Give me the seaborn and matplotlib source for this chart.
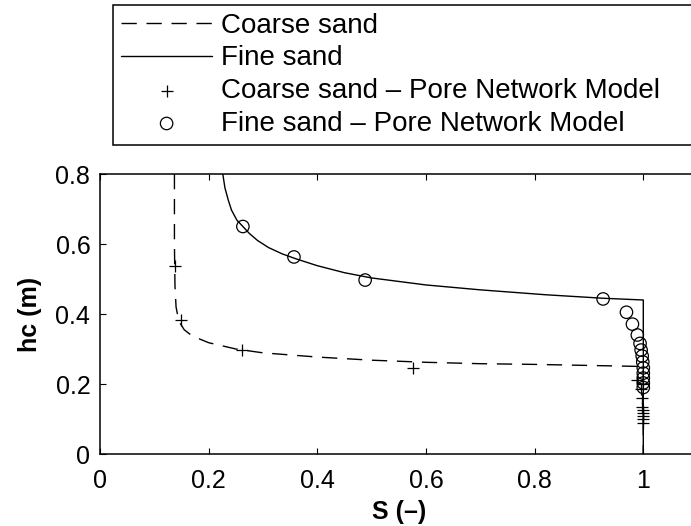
import matplotlib
matplotlib.use('Agg')
import matplotlib.pyplot as plt
import seaborn as sns

# retention curves: saturation S (-) vs capillary head hc (m)
coarse_s = [0.137, 0.137, 0.138, 0.140, 0.145, 0.155, 0.170, 0.200, 0.250, 0.300,
            0.400, 0.500, 0.600, 0.700, 0.800, 0.900, 1.000, 1.000]
coarse_hc = [0.800, 0.600, 0.480, 0.420, 0.380, 0.355, 0.337, 0.318, 0.300, 0.289,
             0.277, 0.268, 0.262, 0.258, 0.256, 0.253, 0.250, 0.000]

fine_s = [0.226, 0.230, 0.236, 0.242, 0.252, 0.263, 0.275, 0.290, 0.310, 0.335,
          0.360, 0.400, 0.450, 0.500, 0.600, 0.700, 0.820, 0.926, 1.000, 1.000]
fine_hc = [0.800, 0.760, 0.726, 0.697, 0.668, 0.650, 0.630, 0.610, 0.590, 0.572,
           0.558, 0.538, 0.518, 0.503, 0.483, 0.469, 0.455, 0.445, 0.440, 0.000]

# pore network model points
coarse_pnm_s = [0.138, 0.150, 0.261, 0.576, 0.988, 0.995, 0.997, 0.998, 0.999,
                0.999, 1.000, 1.000, 1.000, 1.000]
coarse_pnm_hc = [0.537, 0.383, 0.297, 0.246, 0.211, 0.185, 0.160, 0.135, 0.127,
                 0.118, 0.108, 0.099, 0.090, 0.200]

fine_pnm_s = [0.263, 0.357, 0.488, 0.926, 0.969, 0.980, 0.989, 0.994, 0.996,
              0.998, 0.999, 1.000, 1.000, 1.000, 1.000, 1.000]
fine_pnm_hc = [0.650, 0.563, 0.497, 0.443, 0.405, 0.371, 0.340, 0.316, 0.297,
               0.280, 0.263, 0.246, 0.231, 0.217, 0.203, 0.190]

xticks = [0, 0.2, 0.4, 0.6, 0.8, 1.0]
xticklabels = ['0', '0.2', '0.4', '0.6', '0.8', '1']
yticks = [0, 0.2, 0.4, 0.6, 0.8]
yticklabels = ['0', '0.2', '0.4', '0.6', '0.8']

sns.set_style('ticks')
plt.rcParams['font.family'] = ['Liberation Sans', 'DejaVu Sans']
plt.rcParams['xtick.direction'] = 'in'
plt.rcParams['ytick.direction'] = 'in'
plt.rcParams['axes.edgecolor'] = 'black'
plt.rcParams['axes.linewidth'] = 1.1
plt.rcParams['text.color'] = 'black'
plt.rcParams['axes.labelcolor'] = 'black'

fig = plt.figure(figsize=(6.91, 5.26), dpi=100)
ax = fig.add_axes([100 / 691, 1 - 454 / 526, 1.1 * 543.3 / 691, 280 / 526])

sns.lineplot(x=coarse_s, y=coarse_hc, sort=False, estimator=None, color='k',
             lw=1.0, linestyle=(0, (11, 7)), label='Coarse sand', ax=ax)
sns.lineplot(x=fine_s, y=fine_hc, sort=False, estimator=None, color='k',
             lw=1.0, label='Fine sand', ax=ax)
sns.scatterplot(x=coarse_pnm_s, y=coarse_pnm_hc, marker='+', color='k', s=70,
                linewidth=0.9, label='Coarse sand \u2013 Pore Network Model', ax=ax)
sns.scatterplot(x=fine_pnm_s, y=fine_pnm_hc, marker='o', s=80, facecolor='none',
                edgecolor='k', linewidth=0.9,
                label='Fine sand \u2013 Pore Network Model', ax=ax)

ax.set_xlim(0, 1.1)
ax.set_ylim(0, 0.8)
ax.set_xticks(xticks)
ax.set_xticklabels(xticklabels)
ax.set_yticks(yticks)
ax.set_yticklabels(yticklabels)
ax.tick_params(axis='both', labelsize=18, length=4, width=0.8,
               top=True, right=True, colors='k')
ax.tick_params(axis='x', pad=11)
ax.tick_params(axis='y', pad=7)
ax.set_xlabel('S (\u2013)', fontsize=18, fontweight='bold', labelpad=5)
ax.set_ylabel('hc (m)', fontsize=18, fontweight='bold', labelpad=10)

handles, labels = ax.get_legend_handles_labels()
ax.get_legend().remove()
leg = fig.legend(handles, labels, loc='upper left', mode='expand',
                 bbox_to_anchor=(113 / 691, 1 - 143 / 526, 620 / 691, 138 / 526),
                 fontsize=20, frameon=True, fancybox=False, framealpha=1,
                 edgecolor='k', borderpad=0.28, labelspacing=0.24,
                 handlelength=3.3, handletextpad=0.3, borderaxespad=0)
leg.get_frame().set_linewidth(1.1)

fig.savefig('out.png', dpi=100)
